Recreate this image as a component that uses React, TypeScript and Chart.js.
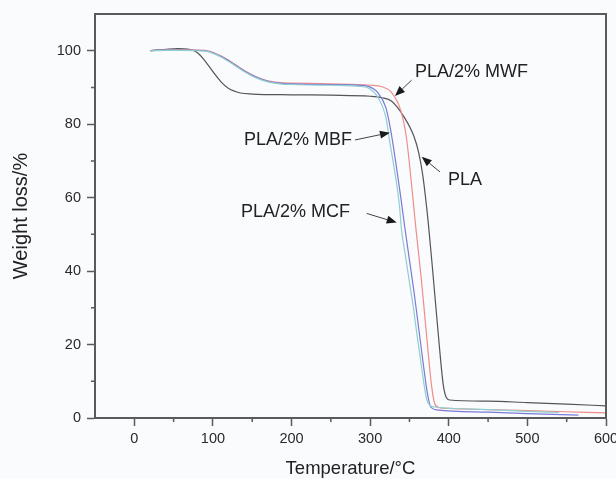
import React, { useEffect, useRef } from 'react';
import { Chart, registerables } from 'chart.js';

Chart.register(...registerables);

// ---- Data ----
const plaT = [20, 40, 55, 70, 80, 90, 100, 110, 120, 135, 150, 200, 250, 300, 315, 327, 343, 356, 362, 367, 374, 380, 387, 393, 397, 401, 450, 500, 550, 600];
const plaW = [100, 100.4, 100.6, 100.4, 99.5, 97.2, 94.3, 91.6, 89.7, 88.5, 88.2, 88.0, 87.9, 87.6, 87.2, 86.3, 82, 76.5, 72, 66, 53, 39, 22, 9, 5.5, 4.9, 4.6, 4.2, 3.8, 3.3];

const mwfT = [20, 40, 60, 80, 95, 110, 125, 140, 155, 170, 185, 200, 250, 300, 315, 327, 339, 346, 352, 358, 365, 372, 378, 382, 387, 400, 450, 500, 550, 600];
const mwfW = [100, 100.2, 100.3, 100.2, 99.9, 98.6, 96.7, 94.6, 92.9, 91.8, 91.3, 91.2, 91.0, 90.6, 90.2, 88.7, 83.7, 76.5, 65, 52, 38, 22, 9, 4, 2.9, 2.6, 2.3, 2.0, 1.7, 1.4];

const mbfT = [20, 40, 60, 80, 95, 110, 125, 140, 155, 170, 185, 200, 250, 293, 310, 320, 326, 333, 339, 344, 350, 356, 362, 368, 373, 377, 385, 450, 500, 565];
const mbfW = [100, 100.2, 100.2, 100.1, 99.8, 98.5, 96.6, 94.5, 92.8, 91.7, 91.2, 91.0, 90.8, 90.5, 88.5, 84.5, 78.5, 69, 60, 52, 43, 34, 24, 14, 6.5, 3, 2.2, 1.6, 1.2, 0.8];

const mcfT = [20, 40, 60, 80, 95, 110, 125, 140, 155, 170, 185, 200, 250, 288, 300, 310, 320, 324, 331, 337, 340, 345, 350, 355, 360, 365, 369, 372, 376, 382, 450, 500, 540];
const mcfW = [100, 100.1, 100.1, 100.0, 99.7, 98.3, 96.4, 94.3, 92.6, 91.5, 91.0, 90.8, 90.6, 90.3, 89.6, 87.3, 81.9, 76.4, 67.4, 58.3, 51.1, 44, 37, 30, 22, 14.5, 8.5, 5, 3.4, 3.0, 2.3, 1.8, 1.5];

const xTicks = [0, 100, 200, 300, 400, 500, 600];
const xMinorTicks = [50, 150, 250, 350, 450, 550];
const yTicks = [0, 20, 40, 60, 80, 100];
const yMinorTicks = [10, 30, 50, 70, 90];

const labels = ['PLA/2% MWF', 'PLA/2% MBF', 'PLA', 'PLA/2% MCF'];
// label anchor (x, y), arrow start, arrow tip (data coords)
const labelAnchorX = [357, 277, 399, 274.5];
const labelAnchorY = [94.2, 75.7, 64.8, 56.2];
const arrowFromX = [352.8, 280.7, 388.8, 295.6];
const arrowFromY = [92.0, 75.7, 67.0, 55.7];
const arrowToX = [331.6, 325.2, 365.5, 333.8];
const arrowToY = [87.7, 77.7, 71.1, 53.2];
const labelAlign = ['left', 'right', 'left', 'right'];

const FONT = '"Liberation Sans", Arial, Helvetica, sans-serif';
const AXIS_COLOR = '#5a5a5a';

const toPts = (t: number[], w: number[]) => t.map((x, i) => ({ x, y: w[i] }));

const framePlugin = {
  id: 'framePlugin',
  beforeDraw(chart: any) {
    const ctx = chart.ctx;
    ctx.save();
    ctx.fillStyle = '#fafbfd';
    ctx.fillRect(0, 0, chart.width, chart.height);
    ctx.restore();
  },
  afterDraw(chart: any) {
    const ctx = chart.ctx;
    const { left, right, top, bottom } = chart.chartArea;
    const xs = chart.scales.x;
    const ys = chart.scales.y;
    ctx.save();
    // top and right frame
    ctx.strokeStyle = AXIS_COLOR;
    ctx.lineWidth = 2;
    ctx.beginPath();
    ctx.moveTo(left - 1, top);
    ctx.lineTo(right, top);
    ctx.lineTo(right, bottom + 1);
    ctx.stroke();
    // minor ticks
    ctx.lineWidth = 1.5;
    ctx.beginPath();
    xMinorTicks.forEach((v) => {
      const px = xs.getPixelForValue(v);
      ctx.moveTo(px, bottom);
      ctx.lineTo(px, bottom + 4);
    });
    yMinorTicks.forEach((v) => {
      const py = ys.getPixelForValue(v);
      ctx.moveTo(left, py);
      ctx.lineTo(left - 4, py);
    });
    ctx.stroke();

    // annotations
    ctx.fillStyle = '#222';
    ctx.font = `18px ${FONT}`;
    ctx.textBaseline = 'middle';
    labels.forEach((txt, i) => {
      ctx.textAlign = labelAlign[i] as CanvasTextAlign;
      ctx.fillStyle = '#222';
      ctx.fillText(txt, xs.getPixelForValue(labelAnchorX[i]), ys.getPixelForValue(labelAnchorY[i]));
      const x1 = xs.getPixelForValue(arrowFromX[i]);
      const y1 = ys.getPixelForValue(arrowFromY[i]);
      const x2 = xs.getPixelForValue(arrowToX[i]);
      const y2 = ys.getPixelForValue(arrowToY[i]);
      const ang = Math.atan2(y2 - y1, x2 - x1);
      const hl = 10;
      const hw = 4;
      const bx = x2 - hl * Math.cos(ang);
      const by = y2 - hl * Math.sin(ang);
      ctx.strokeStyle = '#444';
      ctx.lineWidth = 1;
      ctx.beginPath();
      ctx.moveTo(x1, y1);
      ctx.lineTo(bx, by);
      ctx.stroke();
      ctx.fillStyle = '#1a1a1a';
      ctx.beginPath();
      ctx.moveTo(x2, y2);
      ctx.lineTo(bx + hw * Math.sin(ang), by - hw * Math.cos(ang));
      ctx.lineTo(bx - hw * Math.sin(ang), by + hw * Math.cos(ang));
      ctx.closePath();
      ctx.fill();
    });
    ctx.restore();
  },
};

export default function App() {
  const ref = useRef<HTMLCanvasElement | null>(null);
  useEffect(() => {
    if (!ref.current) return;
    const ds = (label: string, t: number[], w: number[], color: string) => ({
      label,
      data: toPts(t, w),
      borderColor: color,
      backgroundColor: color,
      borderWidth: 1.2,
      pointRadius: 0,
      fill: false,
      cubicInterpolationMode: 'monotone' as const,
    });
    const chart = new Chart(ref.current, {
      type: 'line',
      data: {
        datasets: [
          ds('PLA/2% MCF', mcfT, mcfW, '#8fcfcf'),
          ds('PLA/2% MBF', mbfT, mbfW, '#7b7bd6'),
          ds('PLA/2% MWF', mwfT, mwfW, '#ef8c8c'),
          ds('PLA', plaT, plaW, '#555555'),
        ],
      },
      plugins: [framePlugin],
      options: {
        animation: false,
        responsive: false,
        devicePixelRatio: 1,
        layout: { padding: { left: 0, right: 10, top: 14, bottom: 0 } },
        plugins: { legend: { display: false }, tooltip: { enabled: false } },
        scales: {
          x: {
            type: 'linear',
            min: -50,
            max: 600,
            afterBuildTicks: (s: any) => {
              s.ticks = xTicks.map((v) => ({ value: v }));
            },
            afterFit: (s: any) => {
              s.height = 61;
              s.paddingLeft = 0;
              s.paddingRight = 0;
            },
            grid: { drawOnChartArea: false, drawTicks: true, tickLength: 8, tickColor: AXIS_COLOR, tickWidth: 1.5 },
            border: { display: true, color: AXIS_COLOR, width: 2 },
            ticks: { color: '#2a2a2a', font: { family: FONT, size: 14.5 }, padding: 4, maxRotation: 0, autoSkip: false },
            title: {
              display: true,
              text: 'Temperature/°C',
              color: '#222',
              font: { family: FONT, size: 18.5, lineHeight: 1 },
              padding: { top: 0, bottom: 1 },
            },
          },
          y: {
            type: 'linear',
            min: 0,
            max: 110,
            afterBuildTicks: (s: any) => {
              s.ticks = yTicks.map((v) => ({ value: v }));
            },
            afterFit: (s: any) => {
              s.width = 95;
              s.paddingTop = 0;
              s.paddingBottom = 0;
            },
            grid: { drawOnChartArea: false, drawTicks: true, tickLength: 8, tickColor: AXIS_COLOR, tickWidth: 1.5 },
            border: { display: true, color: AXIS_COLOR, width: 2 },
            ticks: { color: '#2a2a2a', font: { family: FONT, size: 14.5 }, padding: 6, autoSkip: false },
            title: {
              display: true,
              text: 'Weight loss/%',
              color: '#222',
              font: { family: FONT, size: 20, lineHeight: 1 },
              padding: { top: 11, bottom: 0 },
            },
          },
        },
      },
    });
    return () => chart.destroy();
  }, []);
  return (
    <canvas
      ref={ref}
      width={616}
      height={479}
      style={{ position: 'fixed', left: 0, top: 0, display: 'block', width: 616, height: 479 }}
    />
  );
}
